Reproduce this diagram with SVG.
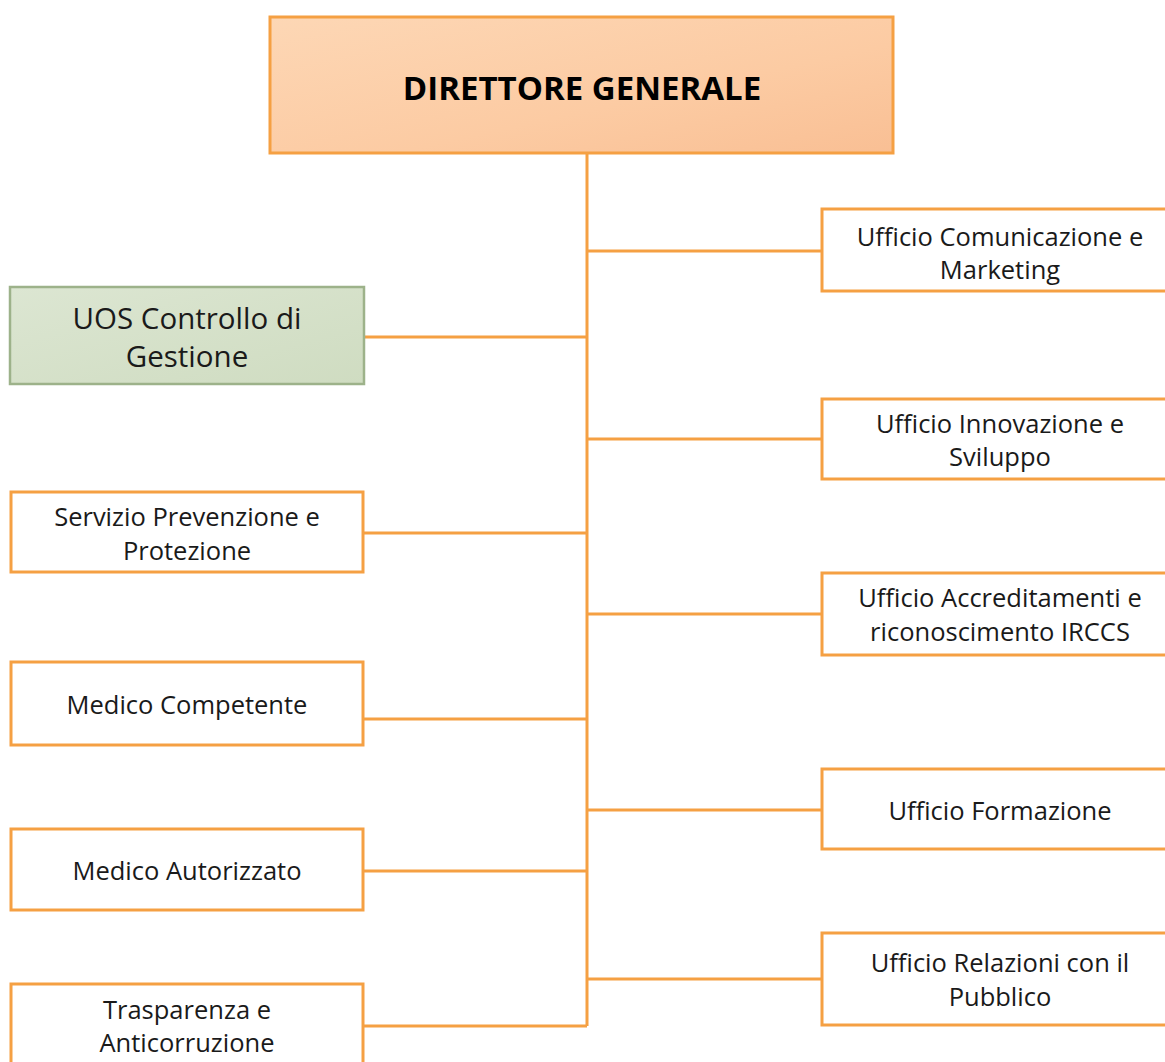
<svg xmlns="http://www.w3.org/2000/svg" width="1165" height="1062" viewBox="0 0 1165 1062">
<defs>
<linearGradient id="gTop" x1="0" y1="0" x2="1" y2="1">
<stop offset="0" stop-color="#fdd7b5"/>
<stop offset="0.6" stop-color="#fccba3"/>
<stop offset="1" stop-color="#f9bf94"/>
</linearGradient>
<linearGradient id="gGreen" x1="0" y1="0" x2="1" y2="1">
<stop offset="0" stop-color="#dce6d2"/>
<stop offset="1" stop-color="#cfdcc1"/>
</linearGradient>
<style>
.box{fill:#ffffff;stroke:#f5a043;stroke-width:3}
.top{fill:url(#gTop);stroke:#f5a043;stroke-width:3}
.green{fill:url(#gGreen);stroke:#9db28a;stroke-width:2.5}
.conn{stroke:#f5a043;stroke-width:3;fill:none}
text{font-family:"Open Sans","Liberation Sans",sans-serif;font-size:25.5px;fill:#1a1a1a;text-anchor:middle}
.big{font-size:29.5px}
.title{font-size:33px;font-weight:bold;fill:#000}
</style>
</defs>
<rect width="1165" height="1062" fill="#ffffff"/>
<g id="connectors">
<line class="conn" x1="587" y1="153" x2="587" y2="1026"/>
<line class="conn" x1="587" y1="251" x2="822" y2="251"/>
<line class="conn" x1="587" y1="439" x2="822" y2="439"/>
<line class="conn" x1="587" y1="614" x2="822" y2="614"/>
<line class="conn" x1="587" y1="810" x2="822" y2="810"/>
<line class="conn" x1="587" y1="979" x2="822" y2="979"/>
<line class="conn" x1="363" y1="337" x2="587" y2="337"/>
<line class="conn" x1="363" y1="533" x2="587" y2="533"/>
<line class="conn" x1="363" y1="719" x2="587" y2="719"/>
<line class="conn" x1="363" y1="871" x2="587" y2="871"/>
<line class="conn" x1="363" y1="1026" x2="587" y2="1026"/>
</g>
<g id="direttore">
<rect class="top" x="270" y="17" width="623" height="136"/>
<text class="title" x="582" y="100">DIRETTORE GENERALE</text>
</g>
<g id="uos">
<rect class="green" x="10" y="287" width="354" height="97"/>
<text class="big" x="187" y="329">UOS Controllo di</text>
<text class="big" x="187" y="367">Gestione</text>
</g>
<g id="servizio">
<rect class="box" x="11" y="492" width="352" height="80"/>
<text x="187" y="526">Servizio Prevenzione e</text>
<text x="187" y="560">Protezione</text>
</g>
<g id="medico-competente">
<rect class="box" x="11" y="662" width="352" height="83"/>
<text x="187" y="714">Medico Competente</text>
</g>
<g id="medico-autorizzato">
<rect class="box" x="11" y="829" width="352" height="81"/>
<text x="187" y="880">Medico Autorizzato</text>
</g>
<g id="trasparenza">
<rect class="box" x="11" y="984" width="352" height="90"/>
<text x="187" y="1019">Trasparenza e</text>
<text x="187" y="1052">Anticorruzione</text>
</g>
<g id="comunicazione">
<rect class="box" x="822" y="209" width="360" height="82"/>
<text x="1000" y="246">Ufficio Comunicazione e</text>
<text x="1000" y="279">Marketing</text>
</g>
<g id="innovazione">
<rect class="box" x="822" y="399" width="360" height="80"/>
<text x="1000" y="433">Ufficio Innovazione e</text>
<text x="1000" y="466">Sviluppo</text>
</g>
<g id="accreditamenti">
<rect class="box" x="822" y="573" width="360" height="82"/>
<text x="1000" y="607">Ufficio Accreditamenti e</text>
<text x="1000" y="641">riconoscimento IRCCS</text>
</g>
<g id="formazione">
<rect class="box" x="822" y="769" width="360" height="80"/>
<text x="1000" y="820">Ufficio Formazione</text>
</g>
<g id="relazioni">
<rect class="box" x="822" y="933" width="360" height="92"/>
<text x="1000" y="972">Ufficio Relazioni con il</text>
<text x="1000" y="1006">Pubblico</text>
</g>
</svg>
